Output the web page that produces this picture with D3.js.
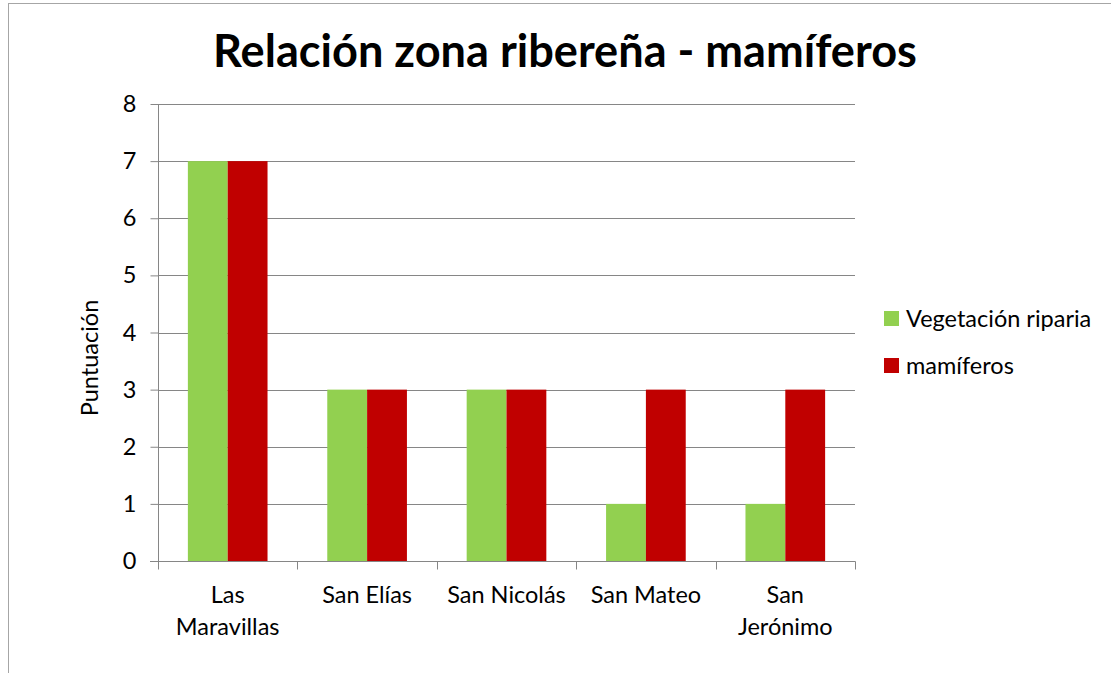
<!DOCTYPE html>
<html><head><meta charset="utf-8">
<script src="https://cdn.jsdelivr.net/npm/d3@7"></script>
<style>body{margin:0;background:#fff;} svg{display:block;} text{font-family:Lato,"Open Sans",sans-serif;fill:#000;}</style>
</head><body>
<svg id="c" width="1111" height="673"></svg>
<script>
const categories = [["Las","Maravillas"],["San Elías"],["San Nicolás"],["San Mateo"],["San","Jerónimo"]];
const seriesNames = ["Vegetación riparia","mamíferos"];
const vegetacion = [7,3,3,1,1];
const mamiferos = [7,3,3,3,3];
const yTicks = [0,1,2,3,4,5,6,7,8];
const colors = ["#92D050","#C00000"];
const title = "Relación zona ribereña - mamíferos";
const yTitle = "Puntuación";

const FS = 23.5;
const svg = d3.select("#c");
// chart frame
svg.append("rect").attr("x",8.5).attr("y",3.5).attr("width",1200).attr("height",800)
  .attr("fill","none").attr("stroke","#a6a6a6").attr("stroke-width",1);

const L=158, R=855, T=104, B=561;
const x = d3.scaleBand().domain(categories.map((d,i)=>i)).range([L,R]).paddingInner(0).paddingOuter(0);
const groupW = x.bandwidth()*2/3.5; // gap width 150%
const xs = d3.scaleBand().domain([0,1]).range([0,groupW]);
const y = d3.scaleLinear().domain([0,8]).range([B,T]);

function fit(sel, w){
  const n = sel.node(); const fs = parseFloat(sel.attr("font-size"));
  const cw = n.getComputedTextLength(); sel.attr("font-size", (fs*w/cw).toFixed(2));
}

// gridlines
svg.append("g").selectAll("line").data(yTicks.slice(1)).join("line")
  .attr("x1",L).attr("x2",R).attr("y1",d=>Math.round(y(d))+0.5).attr("y2",d=>Math.round(y(d))+0.5)
  .attr("stroke","#868686").attr("stroke-width",1);

// bars
const data = categories.map((c,i)=>[vegetacion[i],mamiferos[i]]);
const g = svg.append("g");
data.forEach((vals,i)=>{
  const x0 = x(i) + (x.bandwidth()-groupW)/2;
  vals.forEach((v,j)=>{
    g.append("rect").attr("x",x0+xs(j)).attr("width",xs.bandwidth())
     .attr("y",y(v)).attr("height",y(0)-y(v)).attr("fill",colors[j]);
  });
});

// y axis
const ya = svg.append("g").attr("transform",`translate(${L+0.5},0)`)
  .call(d3.axisLeft(y).tickValues(yTicks).tickSize(8).tickPadding(14).tickFormat(d3.format("d")));
ya.select(".domain").attr("stroke","#868686").attr("d",`M0,${T}V${B}`);
ya.selectAll(".tick line").attr("stroke","#868686");
ya.selectAll("text").attr("font-size",FS).attr("font-family","Lato").attr("fill","#000");

// x axis
const xa = svg.append("g").attr("transform",`translate(0,${B+0.5})`);
xa.append("line").attr("x1",L-8).attr("x2",R+0.5).attr("stroke","#868686");
const ticksX = categories.map((d,i)=>x(i)).concat([R]);
xa.selectAll("line.t").data(ticksX).join("line").attr("class","t")
  .attr("x1",d=>Math.round(d)+0.5).attr("x2",d=>Math.round(d)+0.5).attr("y1",0).attr("y2",8).attr("stroke","#868686");
categories.forEach((lines,i)=>{
  const t = xa.append("text").attr("text-anchor","middle").attr("font-size",FS)
    .attr("x",x(i)+x.bandwidth()/2).attr("y",41);
  lines.forEach((ln,k)=>t.append("tspan").attr("x",x(i)+x.bandwidth()/2).attr("dy",k?32:0).text(ln));
});

// title
const tt = svg.append("text").attr("x",565).attr("y",67).attr("text-anchor","middle")
  .attr("font-weight","bold").attr("font-size",36).text(title);
fit(tt,704);

// y title
svg.append("text").attr("transform","translate(98,358) rotate(-90)").attr("text-anchor","middle")
  .attr("font-size",FS).text(yTitle);

// legend
const lg = svg.append("g");
seriesNames.forEach((s,i)=>{
  const yy = 311 + i*47;
  lg.append("rect").attr("x",884).attr("y",yy).attr("width",15).attr("height",15).attr("fill",colors[i]);
  lg.append("text").attr("x",906).attr("y",yy+16).attr("font-size",FS).text(s);
});
</script>
</body></html>
